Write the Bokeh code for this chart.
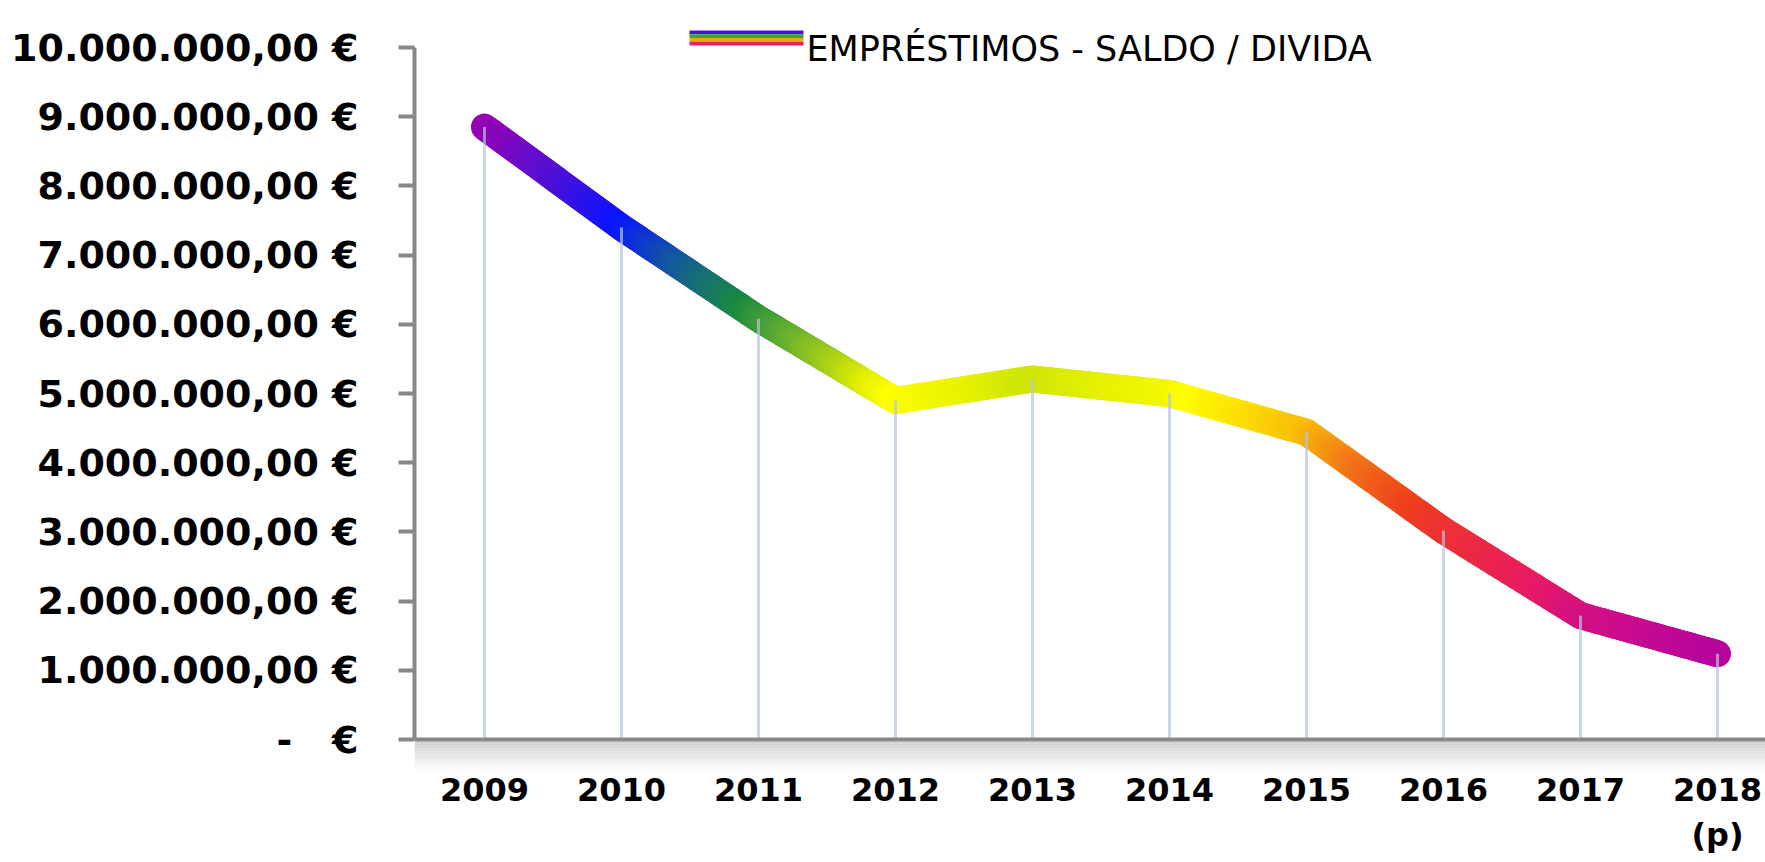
import numpy as np
from bokeh.plotting import figure
from bokeh.models import (FixedTicker, LinearAxis, Span, BoxAnnotation, Label,
                          Range1d, ColumnDataSource)
from bokeh.embed import file_html
from bokeh.resources import INLINE

# ---------------- data ----------------
years = ["2009", "2010", "2011", "2012", "2013", "2014", "2015", "2016", "2017", "2018"]
year_labels = ["2009", "2010", "2011", "2012", "2013", "2014", "2015", "2016", "2017", "2018\n(p)"]
saldo = [8_850_000, 7_400_000, 6_080_000, 4_900_000, 5_210_000,
         5_000_000, 4_440_000, 3_020_000, 1_790_000, 1_240_000]
y_ticks = [0, 1_000_000, 2_000_000, 3_000_000, 4_000_000, 5_000_000,
           6_000_000, 7_000_000, 8_000_000, 9_000_000, 10_000_000]
y_tick_labels = ["-\u00a0\u00a0\u00a0€", "1.000.000,00 €", "2.000.000,00 €", "3.000.000,00 €",
                 "4.000.000,00 €", "5.000.000,00 €", "6.000.000,00 €",
                 "7.000.000,00 €", "8.000.000,00 €", "9.000.000,00 €",
                 "10.000.000,00 €"]
series_name = "EMPRÉSTIMOS - SALDO / DIVIDA"

# ---------------- style: vertical colour gradient of the line ----------------
grad_levels = [1.0e6, 1.6e6, 2.2e6, 2.8e6, 3.3e6, 3.9e6, 4.4e6, 4.9e6, 5.1e6,
               5.4e6, 5.8e6, 6.2e6, 6.8e6, 7.4e6, 8.0e6, 8.9e6]
grad_colors = ["#a800a8", "#cc0c8c", "#e81c60", "#ec2c3c", "#ee3e1c", "#f27418",
               "#f8b808", "#ffff00", "#e4f000", "#a8d018", "#60ac30", "#1a8a40",
               "#125c98", "#0a14ff", "#4a10d8", "#a000b0"]
legend_stripes = ["#4c12d8", "#40a040", "#f6a018", "#ee2064"]

# ---------------- layout (page pixels; canvas sits at page 0,0) ----------------
PAGE_W, PAGE_H = 1765, 862
FRAME_LEFT, FRAME_RIGHT = 414, 1765
FRAME_TOP, FRAME_BOTTOM = 0, 770
FIRST_CAT_X, CAT_PX = 484, 137.0
ZERO_Y, PX_PER_UNIT = 739, 69.2 / 1e6


def dx(px):
    return (px - FIRST_CAT_X) / CAT_PX


def dy(py):
    return (ZERO_Y - py) / PX_PER_UNIT


p = figure(frame_width=FRAME_RIGHT - FRAME_LEFT, frame_height=FRAME_BOTTOM - FRAME_TOP,
           x_range=Range1d(dx(FRAME_LEFT), dx(FRAME_RIGHT)),
           y_range=Range1d(dy(FRAME_BOTTOM), dy(FRAME_TOP)),
           output_backend="svg", toolbar_location=None,
           x_axis_location=None, y_axis_location=None,
           min_border_left=FRAME_LEFT, min_border_right=0,
           min_border_top=FRAME_TOP, min_border_bottom=PAGE_H - FRAME_BOTTOM - 4)
p.outline_line_color = None
p.background_fill_color = "white"
p.border_fill_color = "white"
try:
    p.grid.grid_line_color = None
except Exception:
    pass

# shadow under the category axis
steps = 15
for j in range(steps):
    g = int(round(206 + (254 - 206) * j / (steps - 1)))
    p.add_layout(BoxAnnotation(top=dy(ZERO_Y + 2 + 2 * j), bottom=dy(ZERO_Y + 4 + 2 * j),
                               fill_color="#%02x%02x%02x" % (g, g, g), fill_alpha=1.0,
                               line_color=None, level="underlay"))

# ---------------- gradient line ----------------
gl = np.array(grad_levels)
gc = np.array([[int(c[k:k + 2], 16) for k in (1, 3, 5)] for c in grad_colors], dtype=float)


def color_at(v):
    r, g, b = (np.interp(v, gl, gc[:, k]) for k in range(3))
    return "#%02x%02x%02x" % (int(round(r)), int(round(g)), int(round(b)))


idx = list(range(len(years)))
K = 40
x0s, y0s, x1s, y1s, cols = [], [], [], [], []
for i in range(len(saldo) - 1):
    t = np.linspace(0.0, 1.0, K + 1)
    xx = idx[i] + t * (idx[i + 1] - idx[i])
    yy = saldo[i] + t * (saldo[i + 1] - saldo[i])
    for k in range(K):
        x0s.append(xx[k]); y0s.append(yy[k]); x1s.append(xx[k + 1]); y1s.append(yy[k + 1])
        cols.append(color_at(0.5 * (yy[k] + yy[k + 1])))

src = ColumnDataSource(dict(x0=x0s, y0=y0s, x1=x1s, y1=y1s, color=cols))
p.segment(x0="x0", y0="y0", x1="x1", y1="y1", line_color="color", line_width=27,
          line_cap="round", line_join="round", source=src)

# drop lines
p.segment(x0=idx, y0=[0] * len(idx), x1=idx, y1=saldo, line_color="#b4c4e6",
          line_alpha=0.7, line_width=3)

# category axis line
p.add_layout(Span(location=0, dimension="width", line_color="#888888", line_width=4))

# ---------------- axes ----------------
yaxis = LinearAxis(ticker=FixedTicker(ticks=y_ticks),
                   major_label_overrides={t: s for t, s in zip(y_ticks, y_tick_labels)})
yaxis.bounds = (y_ticks[0], y_ticks[-1])
yaxis.axis_line_color = "#888888"
yaxis.axis_line_width = 4
yaxis.major_tick_line_color = "#888888"
yaxis.major_tick_line_width = 4
yaxis.major_tick_out = 16
yaxis.major_tick_in = 0
yaxis.minor_tick_line_color = None
yaxis.major_label_standoff = 40
yaxis.major_label_text_font = "DejaVu Sans"
yaxis.major_label_text_font_style = "bold"
yaxis.major_label_text_font_size = "38px"
yaxis.major_label_text_color = "black"
p.add_layout(yaxis, "left")

xaxis = LinearAxis(ticker=FixedTicker(ticks=idx),
                   major_label_overrides={i: s for i, s in zip(idx, year_labels)})
xaxis.axis_line_color = None
xaxis.major_tick_line_color = None
xaxis.minor_tick_line_color = None
xaxis.major_tick_out = 0
xaxis.major_label_standoff = 0
xaxis.major_label_text_font = "DejaVu Sans"
xaxis.major_label_text_font_style = "bold"
xaxis.major_label_text_font_size = "32px"
xaxis.major_label_text_color = "black"
p.add_layout(xaxis, "below")

# ---------------- legend ----------------
sw_left, sw_right, sw_top = 689, 803, 30
stripe_h = 3.75
for j, c in enumerate(legend_stripes):
    p.add_layout(BoxAnnotation(left=dx(sw_left), right=dx(sw_right),
                               top=dy(sw_top + j * stripe_h),
                               bottom=dy(sw_top + (j + 1) * stripe_h),
                               fill_color=c, fill_alpha=1.0, line_color=None))
p.add_layout(Label(x=dx(806), y=dy(48), text=series_name, text_font="DejaVu Sans",
                   text_font_size="35px", text_color="black",
                   text_align="left", text_baseline="alphabetic"))

open("out.html", "w").write(file_html(p, INLINE, "Empréstimos"))
